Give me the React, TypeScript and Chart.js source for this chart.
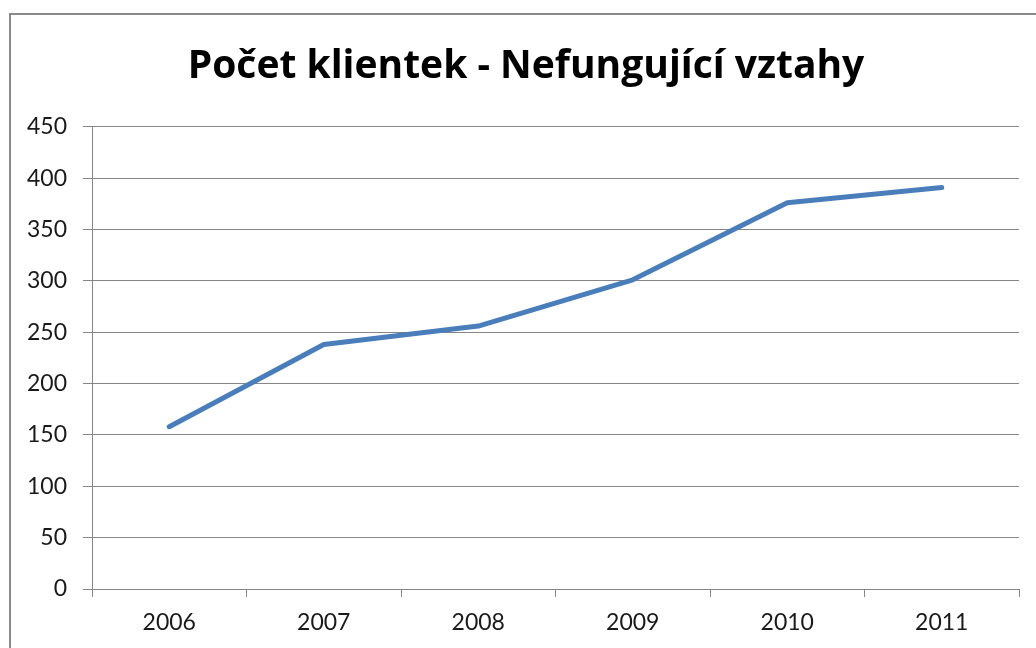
import React, { useEffect, useRef } from "react";
import { Chart, registerables } from "chart.js";

Chart.register(...registerables);

const categories = ["2006", "2007", "2008", "2009", "2010", "2011"];
const values = [158, 238, 256, 301, 376, 391];
const titleText = "Počet klientek - Nefungující vztahy";
const yMin = 0;
const yMax = 450;
const yStep = 50;

const GRID = "#868686";

const framePlugin = {
  id: "frame",
  beforeDraw(chart: any) {
    const ctx = chart.ctx;
    ctx.save();
    ctx.fillStyle = "#ffffff";
    ctx.fillRect(0, 0, chart.width, chart.height);
    ctx.strokeStyle = "#8a8a8a";
    ctx.lineWidth = 2;
    ctx.beginPath();
    ctx.moveTo(10, chart.height + 5);
    ctx.lineTo(10, 14);
    ctx.lineTo(chart.width + 5, 14);
    ctx.stroke();
    ctx.restore();
  },
};

export default function App() {
  const ref = useRef<HTMLCanvasElement | null>(null);
  useEffect(() => {
    document.body.style.margin = "0";
    document.body.style.overflow = "hidden";
    const chart = new Chart(ref.current!, {
      type: "line",
      data: {
        labels: categories,
        datasets: [
          {
            data: values,
            borderColor: "#4a7ebb",
            borderWidth: 5,
            borderCapStyle: "round",
            borderJoinStyle: "round",
            pointRadius: 0,
            tension: 0,
            fill: false,
          },
        ],
      },
      options: {
        animation: false,
        responsive: false,
        layout: { padding: { left: 0, right: -16, top: 0, bottom: 0 } },
        plugins: {
          legend: { display: false },
          tooltip: { enabled: false },
          title: {
            display: true,
            text: titleText,
            color: "#000000",
            font: { family: "Open Sans", size: 39, weight: "bold", lineHeight: 1.2 },
            padding: { top: 43, bottom: 37 },
          },
        },
        scales: {
          x: {
            type: "category",
            offset: true,
            afterFit(scale: any) {
              scale.height = 59;
            },
            grid: {
              display: true,
              drawOnChartArea: false,
              drawTicks: true,
              tickLength: 8,
              color: GRID,
              offset: true,
            },
            border: { display: true, color: GRID, width: 1 },
            ticks: {
              color: "#1a1a1a",
              font: { family: "Lato", size: 23 },
              padding: 12,
              maxRotation: 0,
            },
          },
          y: {
            min: yMin,
            max: yMax,
            afterFit(scale: any) {
              scale.width = 92;
            },
            ticks: {
              stepSize: yStep,
              color: "#1a1a1a",
              font: { family: "Lato", size: 23 },
              padding: 16,
            },
            grid: {
              color: GRID,
              tickLength: 9,
              drawTicks: true,
            },
            border: { display: true, color: GRID, width: 1 },
          },
          spacer: {
            type: "linear",
            position: "right",
            display: true,
            min: yMin,
            max: yMax,
            afterFit(scale: any) {
              scale.width = 33;
            },
            ticks: { display: false },
            grid: { display: false, drawOnChartArea: false },
            border: { display: false },
          },
        },
      },
      plugins: [framePlugin],
    });
    return () => chart.destroy();
  }, []);
  return (
    <canvas
      ref={ref}
      width={1036}
      height={648}
      style={{ display: "block", width: 1036, height: 648 }}
    />
  );
}
